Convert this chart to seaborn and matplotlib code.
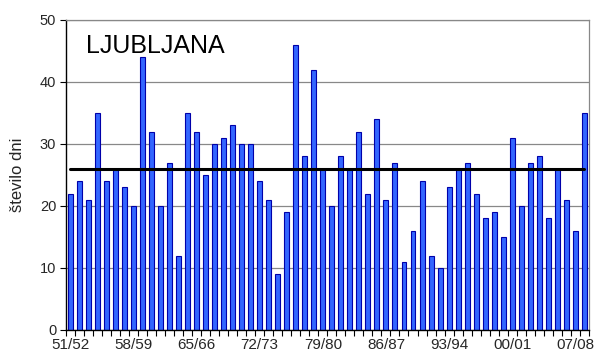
import matplotlib
matplotlib.use("Agg")
import matplotlib.pyplot as plt
import numpy as np
import pandas as pd
import seaborn as sns

# Winter seasons 1951/52 .. 2008/09
start_years = list(range(1951, 2009))
seasons = [f"{y % 100:02d}/{(y + 1) % 100:02d}" for y in start_years]

days = [22, 24, 21, 35, 24, 26, 23, 20, 44, 32, 20, 27, 12, 35,
        32, 25, 30, 31, 33, 30, 30, 24, 21, 9, 19, 46, 28, 42,
        26, 20, 28, 26, 32, 22, 34, 21, 27,
        11, 16, 24, 12, 10, 23, 26, 27, 22, 18, 19, 15,
        31, 20, 27, 28, 18, 26, 21, 16, 35]
reference_mean = [26] * len(days)

station = "LJUBLJANA"
y_label = "število dni"
y_ticks = [0, 10, 20, 30, 40, 50]

df = pd.DataFrame({"season": seasons, "days": days, "mean": reference_mean})
df["pos"] = np.arange(len(df))

sns.set_theme(style="white")
plt.rcParams["font.family"] = ["Liberation Sans", "DejaVu Sans"]

fig = plt.figure(figsize=(5.99, 3.62), dpi=100)
ax = fig.add_axes([0.110, 0.0884, 0.873, 0.8566])

sns.barplot(data=df, x="season", y="days", ax=ax, color="#3366FF",
            saturation=1, width=0.55, edgecolor="#0000AA", linewidth=0.8)
sns.lineplot(data=df, x="pos", y="mean", ax=ax, color="black",
             linewidth=2.2, zorder=5)

ax.set_xlim(-0.5, len(df) - 0.5)
ax.set_ylim(0, 50)

# horizontal grid
ax.set_yticks(y_ticks)
ax.yaxis.grid(True, color="#888888", linewidth=0.9)
ax.set_axisbelow(True)

# ticks between categories, labels every 7th season
ax.set_xticks(np.arange(-0.5, len(df), 1.0))
ax.set_xticklabels([])
ax.tick_params(axis="x", which="major", direction="out", length=4,
               width=0.8, color="black", bottom=True)
label_pos = np.arange(0, len(df), 7)
ax.set_xticks(label_pos, minor=True)
ax.set_xticklabels([seasons[i] for i in label_pos], minor=True, fontsize=11)
ax.tick_params(axis="x", which="minor", length=0, pad=6)
ax.tick_params(axis="y", direction="out", length=4, width=0.8,
               color="black", left=True, labelsize=10.5, pad=3)

ax.set_xlabel("")
ax.set_ylabel(y_label, fontsize=12, labelpad=11)

for side in ["left", "bottom"]:
    ax.spines[side].set_color("black")
    ax.spines[side].set_linewidth(1.0)
for side in ["top", "right"]:
    ax.spines[side].set_visible(True)
    ax.spines[side].set_color("#888888")
    ax.spines[side].set_linewidth(0.9)

ax.text(0.038, 0.915, station, transform=ax.transAxes, fontsize=18,
        ha="left", va="center", color="black")

fig.savefig("out.png", dpi=100)
